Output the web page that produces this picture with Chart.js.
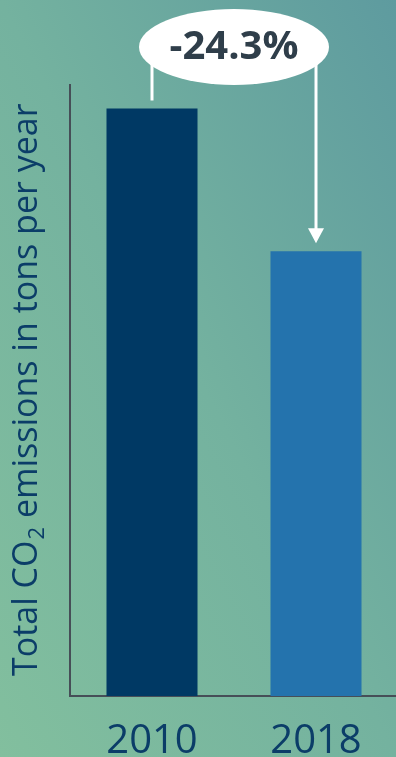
<!DOCTYPE html>
<html>
<head>
<meta charset="utf-8">
<script src="https://cdn.jsdelivr.net/npm/chart.js@4"></script>
<style>
html,body{margin:0;padding:0;width:396px;height:757px;overflow:hidden;}
body{background:linear-gradient(to top right,#82bf9e 0%,#74b29f 50%,#5e9b9f 100%);}
#wrap{position:absolute;left:0;top:0;width:396px;height:757px;overflow:hidden;}
</style>
</head>
<body>
<div id="wrap"><canvas id="c" width="398" height="757"></canvas></div>
<script>
const categories = ["2010", "2018"];
const emissions = [100, 75.7];
const yAxisTitle = ["Total CO", "2", " emissions in tons per year"];
const yMax = 104;

const FONT = "'Open Sans', sans-serif";
const NAVY = "#0b3d68";

const annotationPlugin = {
  id: 'changeBubble',
  afterDatasetsDraw(chart) {
    const ctx = chart.ctx;
    const meta = chart.getDatasetMeta(0);
    const b0 = meta.data[0], b1 = meta.data[1];
    const v0 = emissions[0], v1 = emissions[1];
    const pct = ((v1 - v0) / v0 * 100).toFixed(1) + '%';
    const cx = (b0.x + b1.x) / 2, cy = 47, rx = 95, ry = 38;
    ctx.save();
    ctx.strokeStyle = '#ffffff';
    ctx.fillStyle = '#ffffff';
    ctx.lineWidth = 3;
    ctx.beginPath();
    ctx.moveTo(b0.x, cy + 10);
    ctx.lineTo(b0.x, b0.y - 8);
    ctx.stroke();
    const tipY = b1.y - 8;
    ctx.beginPath();
    ctx.moveTo(b1.x, cy + 10);
    ctx.lineTo(b1.x, tipY - 12);
    ctx.stroke();
    ctx.beginPath();
    ctx.moveTo(b1.x - 8, tipY - 15);
    ctx.lineTo(b1.x + 8, tipY - 15);
    ctx.lineTo(b1.x, tipY);
    ctx.closePath();
    ctx.fill();
    ctx.beginPath();
    ctx.ellipse(cx, cy, rx, ry, 0, 0, Math.PI * 2);
    ctx.fill();
    ctx.fillStyle = '#2f3e4a';
    ctx.font = "bold 40px " + FONT;
    ctx.textAlign = 'center';
    ctx.textBaseline = 'middle';
    ctx.fillText(pct, cx, cy + 1);
    ctx.restore();
  }
};

const yTitlePlugin = {
  id: 'yTitle',
  afterDraw(chart) {
    const ctx = chart.ctx;
    ctx.save();
    ctx.translate(37, 676);
    ctx.rotate(-Math.PI / 2);
    ctx.fillStyle = NAVY;
    ctx.textBaseline = 'alphabetic';
    ctx.textAlign = 'left';
    const big = "34px " + FONT, small = "22px " + FONT;
    let x = 0;
    ctx.font = big; ctx.fillText(yAxisTitle[0], x, 0); x += ctx.measureText(yAxisTitle[0]).width;
    ctx.font = small; ctx.fillText(yAxisTitle[1], x + 1, 7); x += ctx.measureText(yAxisTitle[1]).width + 1;
    ctx.font = big; ctx.fillText(yAxisTitle[2], x, 0);
    ctx.restore();
  }
};

new Chart(document.getElementById('c'), {
  type: 'bar',
  data: {
    labels: categories,
    datasets: [{
      data: emissions,
      backgroundColor: ['#003964', '#2473ad'],
      barPercentage: 0.555,
      categoryPercentage: 1.0
    }]
  },
  options: {
    responsive: false,
    animation: false,
    layout: { padding: { left: 0, right: 0, top: 85, bottom: 0 } },
    plugins: { legend: { display: false }, tooltip: { enabled: false } },
    scales: {
      x: {
        grid: { display: false, drawTicks: false },
        border: { display: true, color: '#464e57', width: 2 },
        ticks: { color: NAVY, font: { family: FONT, size: 40 }, padding: 22 },
        afterFit(s) { s.height = 61; }
      },
      y: {
        min: 0, max: yMax,
        grid: { display: false, drawTicks: false },
        border: { display: true, color: '#464e57', width: 2 },
        ticks: { display: false },
        afterFit(s) { s.width = 70; }
      }
    }
  },
  plugins: [annotationPlugin, yTitlePlugin]
});
</script>
</body>
</html>
